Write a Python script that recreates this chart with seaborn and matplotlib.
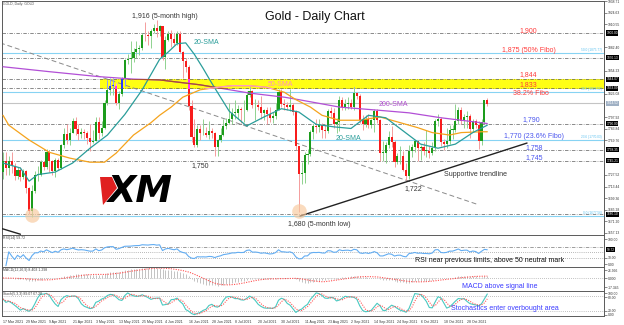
import numpy as np
import pandas as pd
import matplotlib
matplotlib.use("Agg")
import matplotlib.pyplot as plt
import matplotlib.transforms as mtransforms
from matplotlib.patches import Rectangle, Polygon
import seaborn as sns

# ---------------- data ----------------
first_open = 1731
close = [1745, 1736, 1745, 1738, 1726, 1734, 1725, 1732, 1712, 1684, 1708,
         1728, 1728, 1743, 1737, 1756, 1744, 1732, 1746, 1736, 1764, 1777, 1770, 1779, 1793, 1783, 1777, 1780, 1778, 1773, 1768, 1769,
         1792, 1778, 1785, 1815, 1831, 1836, 1836, 1815, 1826, 1844, 1867, 1869, 1870, 1877, 1881, 1882, 1898, 1897, 1896, 1903, 1906,
         1903, 1908, 1871, 1891, 1899, 1893, 1888, 1899, 1877, 1866, 1859, 1811, 1774, 1764, 1783, 1778, 1779, 1776, 1781, 1779, 1761, 1770,
         1776, 1787, 1791, 1796, 1803, 1803, 1808, 1806, 1807, 1825, 1829, 1812, 1813, 1810, 1803, 1806, 1802, 1797, 1799, 1806, 1828, 1814,
         1813, 1810, 1813, 1804, 1763, 1729, 1730, 1752, 1753, 1780, 1787, 1786, 1788, 1782, 1781, 1805, 1803, 1790, 1792, 1818, 1810, 1814,
         1815, 1810, 1827, 1823, 1794, 1789, 1795, 1788, 1794, 1805, 1794, 1754, 1754, 1764, 1774, 1768, 1743, 1750, 1751, 1734, 1726, 1757,
         1761, 1769, 1760, 1762, 1757, 1757, 1754, 1760, 1793, 1796, 1768, 1765, 1769, 1782, 1782, 1793, 1807, 1793, 1798, 1799, 1783,
         1793, 1788, 1769, 1792, 1818, 1814]
high = [1755, 1755, 1750, 1755, 1742, 1737, 1737, 1735, 1733, 1713, 1715,
        1732, 1738, 1746, 1745, 1759, 1758, 1746, 1748, 1748, 1765, 1784, 1790, 1785, 1797, 1798, 1790, 1785, 1783, 1781, 1789, 1782,
        1798, 1798, 1793, 1818, 1843, 1845, 1845, 1839, 1829, 1846, 1869, 1875, 1890, 1882, 1890, 1885, 1900, 1913, 1903, 1905, 1911,
        1916, 1910, 1909, 1896, 1903, 1904, 1900, 1903, 1903, 1878, 1870, 1861, 1819, 1795, 1788, 1788, 1795, 1786, 1793, 1785, 1780, 1771,
        1785, 1795, 1797, 1815, 1809, 1818, 1812, 1810, 1818, 1830, 1834, 1831, 1820, 1818, 1824, 1808, 1810, 1810, 1804, 1815, 1832, 1832,
        1820, 1816, 1832, 1815, 1806, 1760, 1743, 1755, 1759, 1782, 1790, 1795, 1795, 1791, 1790, 1808, 1810, 1809, 1797, 1823, 1822, 1820,
        1822, 1820, 1834, 1828, 1826, 1800, 1800, 1802, 1796, 1808, 1808, 1796, 1769, 1767, 1781, 1787, 1770, 1754, 1763, 1757, 1742, 1764,
        1765, 1770, 1770, 1764, 1767, 1782, 1763, 1768, 1796, 1801, 1798, 1771, 1785, 1788, 1788, 1814, 1810, 1810, 1801, 1805, 1801,
        1795, 1796, 1793, 1795, 1819, 1821]
low = [1723, 1728, 1727, 1730, 1721, 1723, 1720, 1722, 1705, 1680, 1677,
       1705, 1720, 1726, 1733, 1735, 1731, 1728, 1725, 1734, 1735, 1760, 1765, 1764, 1778, 1776, 1770, 1773, 1771, 1765, 1757, 1766,
       1770, 1771, 1775, 1783, 1812, 1825, 1825, 1813, 1808, 1823, 1836, 1862, 1852, 1865, 1870, 1873, 1879, 1890, 1885, 1882, 1900,
       1895, 1896, 1867, 1856, 1890, 1883, 1885, 1886, 1876, 1845, 1853, 1807, 1768, 1761, 1762, 1770, 1776, 1774, 1771, 1773, 1751, 1750,
       1768, 1775, 1783, 1789, 1790, 1795, 1795, 1791, 1792, 1805, 1822, 1809, 1794, 1806, 1796, 1794, 1789, 1792, 1791, 1795, 1806, 1810,
       1807, 1806, 1805, 1800, 1758, 1682, 1717, 1718, 1741, 1750, 1771, 1779, 1780, 1772, 1772, 1778, 1797, 1785, 1778, 1781, 1806, 1807,
       1808, 1808, 1807, 1820, 1791, 1782, 1786, 1785, 1785, 1780, 1791, 1745, 1744, 1742, 1760, 1762, 1737, 1741, 1741, 1732, 1721, 1722,
       1749, 1755, 1745, 1746, 1752, 1749, 1748, 1752, 1757, 1787, 1763, 1758, 1760, 1765, 1771, 1780, 1790, 1790, 1785, 1785, 1772,
       1780, 1784, 1759, 1764, 1789, 1811]

date_tick_bars = [0, 8, 16, 24, 32, 40, 48, 56, 64, 72, 80, 88, 96, 104, 112, 120, 128, 136, 144, 152, 160]
date_tick_labels = ["17 Mar 2021", "29 Mar 2021", "9 Apr 2021", "21 Apr 2021", "3 May 2021", "13 May 2021",
                    "25 May 2021", "4 Jun 2021", "16 Jun 2021", "28 Jun 2021", "8 Jul 2021", "20 Jul 2021",
                    "30 Jul 2021", "11 Aug 2021", "23 Aug 2021", "2 Sep 2021", "14 Sep 2021", "24 Sep 2021",
                    "6 Oct 2021", "18 Oct 2021", "28 Oct 2021"]

sma20_bar = [0, 6, 9, 12, 18, 24, 30, 36, 42, 48, 54, 57, 60, 63, 66, 69, 72, 78, 84, 90, 96, 102, 108,
             114, 120, 126, 132, 138, 144, 150, 156, 162, 167]
sma20_val = [1742, 1736, 1720, 1728, 1731, 1742, 1760, 1776, 1801, 1831, 1868, 1877, 1887, 1888, 1874, 1857, 1839,
             1805, 1787, 1798, 1808, 1804, 1789, 1786, 1784, 1800, 1797, 1781, 1765, 1760, 1765, 1779, 1788]
sma50_bar = [0, 2, 9, 16, 23, 30, 35, 39, 45, 51, 54, 58, 62, 68, 74, 79, 85, 91, 97, 101, 106, 110, 116,
             123, 130, 137, 143, 148, 154, 158, 165, 167]
sma50_val = [1800, 1788, 1770, 1755, 1748, 1743, 1743, 1754, 1776, 1791, 1800, 1810, 1822, 1831, 1834, 1836,
             1836, 1834, 1828, 1819, 1810, 1800, 1794, 1794, 1798, 1791, 1785, 1779, 1776, 1779, 1780, 1780]
sma200_bar = [0, 16, 33, 45, 54, 68, 85, 97, 102, 116, 130, 140, 151, 158, 167]
sma200_val = [1859, 1853, 1847, 1844, 1843, 1837, 1827, 1822, 1819, 1810, 1806, 1803, 1797, 1794, 1790]

dash_levels = [1900, 1870, 1844, 1833, 1790, 1758, 1745, 1680]
dash_level_tags = ["1900.00", "1870.13", "1844.07", "1833.09", "1790.00", "1758.35", "1745.21", "1680.10"]
fibo_levels = [1875.77, 1828.52, 1770.03, 1677.56]
fibo_tags = ["50.0 (1875.77)", "38.2 (1828.52)", "23.6 (1770.03)", "0.0 (1677.56)"]
last_price = 1814.52
zone_low, zone_high = 1832.5, 1844.0
zone_start_bar = 33.4
resist_trend_bars = [-1.0, 163.4]
resist_trend_prices = [1888, 1692]
support_trend_bars = [102.4, 180.7]
support_trend_prices = [1677.6, 1766.3]
old_trend_bars = [-1.0, 6.0]
old_trend_prices = [1663, 1655.5]
price_tick_vals = [1938.71, 1924.63, 1910.55, 1896.47, 1882.40, 1868.32, 1854.23, 1840.16, 1826.08, 1812.00,
                   1797.92, 1783.84, 1769.76, 1755.68, 1741.60, 1727.52, 1713.44, 1699.36, 1685.28, 1671.20, 1657.13]

# ---------------- derived series ----------------
c = np.array(close, float)
o = np.r_[first_open, c[:-1]]
hi = np.maximum(np.array(high, float), np.maximum(o, c))
lo = np.minimum(np.array(low, float), np.minimum(o, c))
idx = np.arange(len(c))
up = c >= o

cs = pd.Series(c)
d = cs.diff()
ag = d.clip(lower=0).ewm(alpha=1 / 14, adjust=True).mean()
al = (-d.clip(upper=0)).ewm(alpha=1 / 14, adjust=True).mean()
rsi = 100 - 100 / (1 + ag / al)
ema12 = cs.ewm(span=12, adjust=False).mean()
ema26 = cs.ewm(span=26, adjust=False).mean()
macd = ema12 - ema26
macd_sig = macd.rolling(9, min_periods=1).mean()
hs, ls = pd.Series(hi), pd.Series(lo)
ll = ls.rolling(5, min_periods=1).min()
hh = hs.rolling(5, min_periods=1).max()
k = 100 * (cs - ll).rolling(3, min_periods=1).sum() / (hh - ll).rolling(3, min_periods=1).sum()
dsig = k.rolling(3, min_periods=1).mean()

# ---------------- figure ----------------
sns.set_theme(style="white")
plt.rcParams['font.family'] = ['Liberation Sans', 'DejaVu Sans']
W, H = 624, 325
fig = plt.figure(figsize=(W / 100, H / 100), dpi=100, facecolor='white')


def ax_px(x0, y0, x1, y1):
    return fig.add_axes([x0 / W, 1 - y1 / H, (x1 - x0) / W, (y1 - y0) / H])


ax = ax_px(2, 1, 604, 235)
ax_rsi = ax_px(2, 235, 604, 267)
ax_macd = ax_px(2, 267, 604, 291)
ax_sto = ax_px(2, 291, 604, 316)

XL = (-0.345, 207.24)
for a in (ax, ax_rsi, ax_macd, ax_sto):
    a.set_xlim(*XL)
    a.set_facecolor('white')
    for s in a.spines.values():
        s.set_color('#5a5a5a')
        s.set_linewidth(0.7)
    a.yaxis.tick_right()
    a.tick_params(axis='y', length=2, width=0.4, pad=1, labelsize=2.4, colors='#333333')
    a.tick_params(axis='x', length=0)
    a.set_xticks([])

ax.set_ylim(1654.56, 1938.88)

BULL, BEAR = '#1c9c1c', '#f81c1c'
BULL_W, BEAR_W = '#8fd28f', '#f49c9c'
ZB, ZR = '#2a3cff', '#ff2cff'
ZBW, ZRW = '#8c9cff', '#ff9cff'


def draw_candles(a, cb, cr, wb, wr, clip=None, z=3):
    arts = []
    arts.append(a.vlines(idx, lo, hi, colors=np.where(up, wb, wr), lw=0.7, zorder=z))
    body_lo = np.minimum(o, c)
    body_h = np.maximum(np.abs(c - o), 1.0)
    arts.append(a.bar(idx, body_h, bottom=body_lo, width=0.74,
                      color=np.where(up, cb, cr), linewidth=0, zorder=z + 0.1))
    if clip is not None:
        arts[0].set_clip_path(clip)
        for p in arts[1]:
            p.set_clip_path(clip)


# zone
ax.add_patch(Rectangle((zone_start_bar, zone_low), XL[1] - zone_start_bar, zone_high - zone_low,
                       facecolor='#ffff14', edgecolor='none', zorder=0.5))

# level lines
for lv in dash_levels:
    ax.axhline(lv, color='#5c5c5c', lw=0.5, ls=(0, (5, 2, 1, 2)), zorder=1)
for lv in fibo_levels:
    ax.axhline(lv, color='#87d3f3', lw=0.8, zorder=1)
ax.axhline(last_price, color='#c4c4c4', lw=0.8, zorder=1)

# trend lines
ax.plot(resist_trend_bars, resist_trend_prices, color='#8a8a8a', lw=0.7, ls=(0, (5, 3)), zorder=1.5)
ax.plot(support_trend_bars, support_trend_prices, color='#222222', lw=1.0, zorder=5)
ax.plot(old_trend_bars, old_trend_prices, color='#222222', lw=1.0, zorder=5)

# candles
draw_candles(ax, BULL, BEAR, BULL_W, BEAR_W)
clip_rect = Rectangle((zone_start_bar, zone_low), XL[1] - zone_start_bar, zone_high - zone_low,
                      transform=ax.transData)
draw_candles(ax, ZB, ZR, ZBW, ZRW, clip=clip_rect, z=3.5)

# moving averages
sns.lineplot(x=sma200_bar, y=sma200_val, ax=ax, color='#b24fd6', lw=0.9, zorder=4)
sns.lineplot(x=sma50_bar, y=sma50_val, ax=ax, color='#f5a31c', lw=0.9, zorder=4)
sns.lineplot(x=sma20_bar, y=sma20_val, ax=ax, color='#2a9d9a', lw=0.9, zorder=4)
sns.lineplot(x=sma200_bar, y=sma200_val, ax=ax, color='#a8502a', lw=0.9, zorder=4.2)
ax.lines[-1].set_clip_path(clip_rect)
sns.lineplot(x=sma50_bar, y=sma50_val, ax=ax, color='#ff9ccc', lw=0.9, zorder=4.2)
ax.lines[-1].set_clip_path(clip_rect)

# low markers (March low and August flash-crash low)
i1 = int(np.argmin(lo[:30]))
i2 = 60 + int(np.argmin(lo[60:]))
ax.scatter([i1, i2], [lo[i1] + 2, lo[i2] + 2], s=110, color='#f8c89c', alpha=0.65, linewidths=0, zorder=6)
ax.set_xlabel('')
ax.set_ylabel('')

# right axis of main chart (labels hidden where a level box sits, like the terminal does)
shown_ticks = [v for v in price_tick_vals
               if min(abs(v - lv) for lv in dash_levels + [last_price]) > 5]
ax.set_yticks(shown_ticks)
ax.set_yticklabels([f"{v:.2f}" for v in shown_ticks])
trans = mtransforms.blended_transform_factory(ax.transAxes, ax.transData)
for lv, tag in zip(dash_levels, dash_level_tags):
    ax.text(1.004, lv, tag, transform=trans, fontsize=2.3, color='white', va='center', ha='left',
            bbox=dict(fc='black', ec='none', pad=0.4), clip_on=False, zorder=10)
ax.text(1.004, last_price, f"{last_price:.2f}", transform=trans, fontsize=2.3, color='white', va='center',
        ha='left', bbox=dict(fc='#9fb0c4', ec='none', pad=0.4), clip_on=False, zorder=10)
for lv, tag in zip(fibo_levels, fibo_tags):
    ax.text(0.997, lv + 1.2, tag, transform=trans, fontsize=2.3, color='#5cc1ef', va='bottom', ha='right',
            zorder=10)

# ---------------- RSI ----------------
ax_rsi.set_ylim(-4.4, 114)
for lv, st in [(70, (0, (5, 2, 1, 2))), (50, (0, (1, 2))), (30, (0, (1, 2)))]:
    ax_rsi.axhline(lv, color='#777777', lw=0.5, ls=st)
sns.lineplot(x=idx, y=rsi.values, ax=ax_rsi, color='#63adf2', lw=0.8)
ax_rsi.set_yticks([98, 30, 6])
ax_rsi.set_yticklabels(["100.00", "30.00", "0.00"])
ax_rsi.text(1.004, 59.72, "59.72", transform=mtransforms.blended_transform_factory(ax_rsi.transAxes, ax_rsi.transData),
            fontsize=2.3, color='white', va='center', ha='left', bbox=dict(fc='black', ec='none', pad=0.4),
            clip_on=False)

# ---------------- MACD ----------------
top = float(max(macd.max(), macd_sig.max())) * 1.08
ax_macd.set_ylim(-top * 13 / 11, top)
ax_macd.axhline(0, color='#888888', lw=0.5, ls=(0, (1, 2)))
ax_macd.vlines(idx, 0, macd.values, colors='#b9b9b9', lw=0.6)
sns.lineplot(x=idx, y=macd_sig.values, ax=ax_macd, color='#ff5050', lw=0.8, ls=(0, (1, 1.2)))
ax_macd.set_yticks([top * 0.72, 0, -top * 13 / 11 * 0.72])
ax_macd.set_yticklabels(["26.996", "0.000", "-17.345"])

# ---------------- Stochastic ----------------
ax_sto.set_ylim(-2, 102)
for lv in (80, 20):
    ax_sto.axhline(lv, color='#888888', lw=0.5, ls=(0, (1, 2)))
sns.lineplot(x=idx, y=k.values, ax=ax_sto, color='#49c9c1', lw=0.8)
sns.lineplot(x=idx, y=dsig.values, ax=ax_sto, color='#ff5a5a', lw=0.8, ls=(0, (1, 1.2)))
ax_sto.set_yticks([92, 76, 20, 4])
ax_sto.set_yticklabels(["100.00", "80.00", "20.00", "0.00"])
ax_sto.set_xticks(date_tick_bars)
ax_sto.set_xticklabels(date_tick_labels, fontsize=2.5, ha='left', color='#333333')
ax_sto.tick_params(axis='x', length=2, width=0.4, pad=1)
for a in (ax_rsi, ax_macd, ax_sto):
    a.set_xlabel('')
    a.set_ylabel('')

# ---------------- texts ----------------
def ftxt(x, y, s, **kw):
    fig.text(x / W, 1 - y / H, s, ha=kw.pop('ha', 'center'), va=kw.pop('va', 'center'), **kw)


RED, BLUE, DARK = '#ff3b3b', '#4a55ee', '#333333'
ftxt(315, 17, "Gold - Daily Chart", fontsize=9, color='#111111')
ftxt(3, 4, "GOLD, Daily: GOLD", fontsize=2.5, color='#555555', ha='left')
ftxt(165, 16, "1,916 (5-month high)", fontsize=5, color=DARK)
ftxt(206, 43, "20-SMA", fontsize=5, color='#2a9d9a')
ftxt(280, 84, "50-SMA", fontsize=5, color='#ff8cc6')
ftxt(393, 104, "200-SMA", fontsize=5, color='#b04fd0')
ftxt(348, 139, "20-SMA", fontsize=5, color='#2a9d9a')
ftxt(200, 166, "1,750", fontsize=5, color=DARK)
ftxt(319, 224, "1,680 (5-month low)", fontsize=5, color=DARK)
ftxt(413, 189, "1,722", fontsize=5, color=DARK)
ftxt(476, 174, "Supportive trendline", fontsize=5, color=DARK)
ftxt(528, 31, "1,900", fontsize=5, color=RED)
ftxt(529, 50, "1,875 (50% Fibo)", fontsize=5, color=RED)
ftxt(528, 75, "1,844", fontsize=5, color=RED)
ftxt(528, 85, "1,833", fontsize=5, color=RED)
ftxt(531, 94, "38.2% Fibo", fontsize=5, color=RED)
ftxt(531, 120, "1,790", fontsize=5, color=BLUE)
ftxt(534, 136, "1,770 (23.6% Fibo)", fontsize=5, color=BLUE)
ftxt(534, 148, "1,758", fontsize=5, color=BLUE)
ftxt(534, 158, "1,745", fontsize=5, color=BLUE)
ftxt(3, 238.5, "RSI(14) 59.72", fontsize=2.5, color='#444444', ha='left')
ftxt(3, 270.5, "MACD(12,26,9) 8.403 1.298", fontsize=2.5, color='#444444', ha='left')
ftxt(3, 294.5, "Stoch(5,3,3) 89.07 67.20", fontsize=2.5, color='#444444', ha='left')
ftxt(490, 261, "RSI near previous limits, above 50 neutral mark", fontsize=5, color='#111111')
ftxt(500, 286, "MACD above signal line", fontsize=5, color='#3a3aff')
ftxt(505, 308, "Stochastics enter overbought area", fontsize=5, color='#3a3aff')

# XM logo watermark
fig.patches.append(Polygon([[100 / W, 1 - 177 / H], [112 / W, 1 - 177 / H], [117 / W, 1 - 188 / H],
                            [103 / W, 1 - 205 / H]], closed=True, transform=fig.transFigure,
                           facecolor='#e02020', edgecolor='none', zorder=8))
ftxt(140, 191, "XM", fontsize=26.5, color='black', family='DejaVu Sans', fontweight='bold',
     fontstyle='italic', zorder=9)

fig.savefig('out.png', dpi=100, facecolor='white')
